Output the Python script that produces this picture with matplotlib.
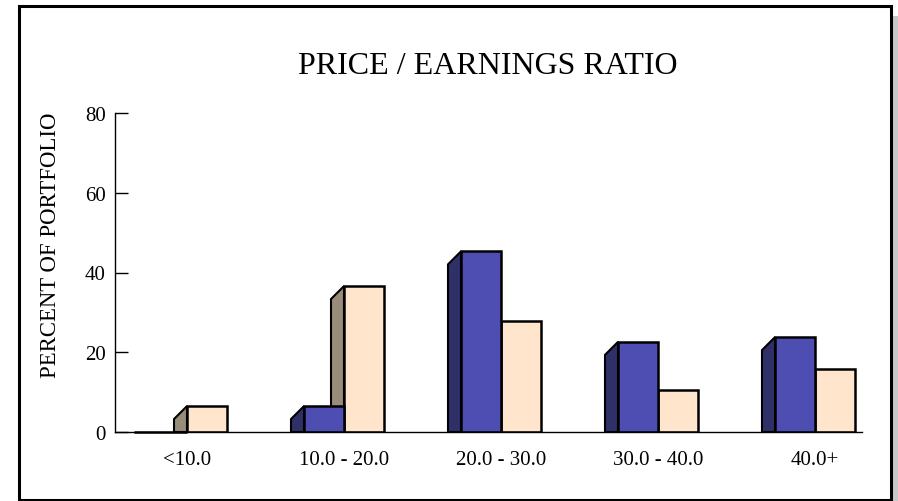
import matplotlib
matplotlib.use("Agg")
import matplotlib.pyplot as plt
from matplotlib.patches import Rectangle, Polygon

categories = ["<10.0", "10.0 - 20.0", "20.0 - 30.0", "30.0 - 40.0", "40.0+"]
blue_values = [0.0, 6.5, 45.3, 22.6, 23.8]
peach_values = [6.5, 36.6, 27.8, 10.5, 15.8]
y_ticks = [0, 20, 40, 60, 80]

W, H = 898, 502
fig = plt.figure(figsize=(W / 100, H / 100), dpi=100)
plt.rcParams['font.family'] = ['Liberation Serif', 'DejaVu Serif']

# frame with shadow
fig.patches.append(Rectangle((892 / W, 0), 6 / W, 1 - 17 / H, transform=fig.transFigure,
                             facecolor="#c8c8c8", edgecolor="none", zorder=-3))
fig.patches.append(Rectangle((19 / W, 1 - 500.5 / H), (890.5 - 19) / W, (500.5 - 6.5) / H,
                             transform=fig.transFigure, facecolor="white", edgecolor="black",
                             linewidth=2.2, zorder=-2))

ax = fig.add_axes([115 / W, 1 - 433 / H, (862 - 115) / W, (433 - 114) / H])
ax.set_facecolor("none")
ax.set_xlim(-0.4586, 4.2994)
ax.set_ylim(0, 80)
for s in ["top", "right"]:
    ax.spines[s].set_visible(False)
ax.spines["left"].set_linewidth(1.0)
ax.spines["bottom"].set_linewidth(1.0)

bw = 40 / 157.0          # bar width in data units
dx = 13 / 157.0          # depth offset
dy = 13 / (319 / 80.0)   # depth offset in y units

def bar3d(x0, h, front, side):
    if h <= 0:
        # zero-height bar collapses onto the baseline as a heavy line
        ax.plot([x0 - dx, x0 + bw], [0, 0], color="black", linewidth=1.8,
                solid_capstyle="butt", clip_on=False)
        return
    side_poly = Polygon([(x0, 0), (x0, h), (x0 - dx, h - dy), (x0 - dx, 0)], closed=True,
                        facecolor=side, edgecolor="black", linewidth=1.5, joinstyle="miter")
    ax.add_patch(side_poly)
    ax.add_patch(Rectangle((x0, 0), bw, h, facecolor=front, edgecolor="black",
                           linewidth=1.8, joinstyle="miter"))

for i in range(len(categories)):
    bar3d(i - bw, blue_values[i], "#4e4eb2", "#303069") if blue_values[i] <= 0 else None
    bar3d(i, peach_values[i], "#ffe5cc", "#9a8c7a")
    if blue_values[i] > 0:
        bar3d(i - bw, blue_values[i], "#4e4eb2", "#303069")

ax.set_yticks(y_ticks)
ax.tick_params(axis="y", direction="in", length=9.4, width=1.0, pad=6.5, labelsize=15)
ax.set_xticks(range(len(categories)))
ax.set_xticklabels(categories)
ax.tick_params(axis="x", length=0, pad=12.7, labelsize=15)

fig.text(51 / W, 1 - 245.5 / H, "PERCENT OF PORTFOLIO", rotation=90, ha="center", va="center",
         fontsize=16.4)
fig.text(488 / W, 1 - 74 / H, "PRICE / EARNINGS RATIO", ha="center", va="baseline",
         fontsize=23)

fig.savefig("out.png", dpi=100)
